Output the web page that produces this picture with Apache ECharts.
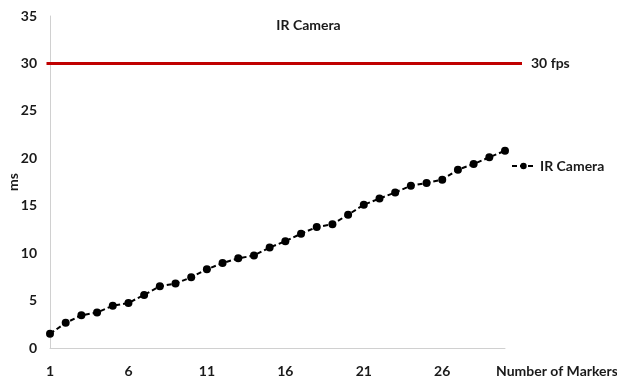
<!DOCTYPE html>
<html>
<head>
<meta charset="utf-8">
<script src="https://cdn.jsdelivr.net/npm/echarts@6/dist/echarts.min.js"></script>
<style>
html,body{margin:0;padding:0;background:#fff;}
#chart{width:617px;height:383px;}
</style>
</head>
<body>
<div id="chart"></div>
<script>
const categories = ['1','2','3','4','5','6','7','8','9','10','11','12','13','14','15','16','17','18','19','20','21','22','23','24','25','26','27','28','29','30'];
const irCamera = [1.5,2.65,3.45,3.75,4.45,4.75,5.6,6.5,6.8,7.45,8.3,8.95,9.45,9.75,10.6,11.25,12.05,12.75,13.05,14.05,15.1,15.75,16.4,17.1,17.4,17.75,18.8,19.4,20.1,20.8];
const fpsLimit = 30;
const fpsLabel = '30 fps';
const fpsLineSpan = [0.78, 31.08]; // horizontal extent of the 30 fps reference line, in marker counts
const yTicks = {min:0, max:35, interval:5};

const FONT = "Lato, 'Liberation Sans', sans-serif";
const TXT = '#1a1a1a';
const fpsData = fpsLineSpan.map(function(x){ return [x, fpsLimit]; });

const chart = echarts.init(document.getElementById('chart'), null, {renderer:'canvas'});
chart.setOption({
  animation:false,
  backgroundColor:'#fff',
  textStyle:{fontFamily:FONT},
  title:{
    text:'IR Camera', left:'center', top:13,
    textStyle:{fontFamily:FONT, fontSize:14, fontWeight:'bold', color:TXT}
  },
  legend:{
    data:['IR Camera'], left:511, top:159, padding:0, itemWidth:23, itemHeight:8,
    textStyle:{fontFamily:FONT, fontSize:14, fontWeight:'bold', color:TXT}
  },
  grid:[
    {left:50, right:112, top:16, bottom:35, containLabel:false, outerBoundsMode:'none'},
    {left:46.5, right:95, top:16, bottom:35, containLabel:false, outerBoundsMode:'none'}
  ],
  xAxis:[{
    type:'category', data:categories, boundaryGap:false, gridIndex:0,
    name:'Number of Markers', nameLocation:'end', nameGap:-9, nameMoveOverlap:false,
    nameTextStyle:{fontFamily:FONT, fontSize:14, fontWeight:'bold', color:TXT, verticalAlign:'top', padding:[16,0,0,0]},
    axisLine:{lineStyle:{color:'#d0d0d0', width:1}},
    axisTick:{show:false},
    axisLabel:{interval:4, margin:16, fontFamily:FONT, fontSize:14, fontWeight:'bold', color:TXT},
    splitLine:{show:false}
  },{
    type:'value', gridIndex:1, min:fpsLineSpan[0], max:fpsLineSpan[1], show:false, splitLine:{show:false}
  }],
  yAxis:[{
    type:'value', gridIndex:0, min:yTicks.min, max:yTicks.max, interval:yTicks.interval,
    name:'ms', nameLocation:'middle', nameGap:30, nameRotate:90, nameMoveOverlap:false,
    nameTextStyle:{fontFamily:FONT, fontSize:14, fontWeight:'bold', color:TXT},
    axisLine:{show:true, lineStyle:{color:'#d0d0d0', width:1}},
    axisTick:{show:false},
    axisLabel:{margin:13, fontFamily:FONT, fontSize:14, fontWeight:'bold', color:TXT},
    splitLine:{show:false}
  },{
    type:'value', gridIndex:1, min:yTicks.min, max:yTicks.max, show:false, splitLine:{show:false}
  }],
  series:[{
    name:'IR Camera', type:'line', data:irCamera, xAxisIndex:0, yAxisIndex:0,
    symbol:'circle', symbolSize:8, showAllSymbol:true, showSymbol:true,
    itemStyle:{color:'#000'},
    lineStyle:{color:'#000', width:2, type:[5,3]},
    z:3
  },{
    name:'30 fps', type:'line', xAxisIndex:1, yAxisIndex:1, data:fpsData,
    symbol:'none', silent:true,
    lineStyle:{color:'#c00000', width:3},
    endLabel:{show:true, formatter:fpsLabel, distance:9,
      fontFamily:FONT, fontSize:14, fontWeight:'bold', color:TXT},
    z:2
  }]
});
</script>
</body>
</html>
